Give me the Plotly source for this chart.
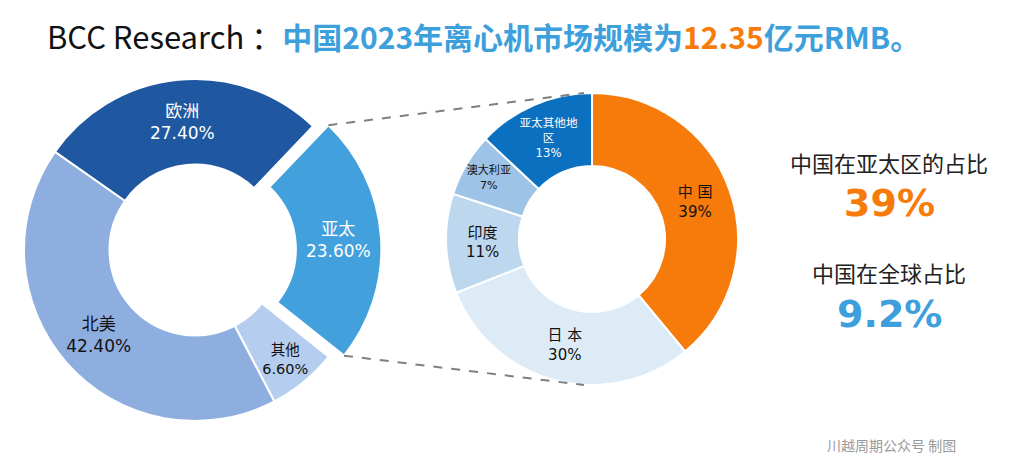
import math
import plotly.graph_objects as go

# page is photographed at 1012x469; the html body has an 8px margin
VW, VH, OFF = 1012, 469, 8
W, H = VW - 2 * OFF, VH - 2 * OFF

# ---- data ----
global_regions = ["欧洲", "亚太", "其他", "北美"]
global_share = [27.40, 23.60, 6.60, 42.40]
global_colors = ["#1f58a0", "#42a0dc", "#b5cdee", "#8eaee0"]
global_text_colors = ["#ffffff", "#ffffff", "#111111", "#111111"]

apac_regions = ["中 国", "日 本", "印度", "澳大利亚", "亚太其他地<br>区"]
apac_share = [39, 30, 11, 7, 13]
apac_colors = ["#f77b0a", "#ddebf7", "#bdd7ee", "#9dc3e6", "#0a70bf"]
apac_text_colors = ["#111111", "#111111", "#111111", "#111111", "#ffffff"]

china_in_apac = "39%"
china_in_world = "9.2%"

# ---- layout constants (screen pixels) ----
cxL, cyL, rL, pullL = 195, 250, 171, 0.09
cxR, cyR, rR = 592, 239, 146
rotL = -55

FONT = "DejaVu Sans, Noto Sans CJK SC, sans-serif"
CJK = "Noto Sans CJK SC, sans-serif"


def px(x):
    return (x - OFF) / W


def py(y):
    return 1 - (y - OFF) / H


def dom(cx, cy, half):
    return dict(x=[max(0, px(cx - half)), min(1, px(cx + half))],
                y=[max(0, py(cy + half)), min(1, py(cy - half))])


fig = go.Figure()

pulls = [pullL if r == "亚太" else 0 for r in global_regions]
fig.add_trace(go.Pie(
    labels=global_regions, values=global_share, sort=False,
    direction="clockwise", rotation=rotL, hole=0.5, pull=pulls,
    marker=dict(colors=global_colors, line=dict(color="white", width=2)),
    text=[f"{r}<br>{v:.2f}%" for r, v in zip(global_regions, global_share)],
    textinfo="text", textposition="inside", insidetextorientation="horizontal",
    textfont=dict(family=FONT, size=17, color=global_text_colors),
    domain=dom(cxL, cyL, rL * (1 + pullL)), showlegend=False, hoverinfo="label+percent",
))

fig.add_trace(go.Pie(
    labels=apac_regions, values=apac_share, sort=False,
    direction="clockwise", rotation=0, hole=0.5,
    marker=dict(colors=apac_colors, line=dict(color="white", width=2)),
    text=[f"{r}<br>{v}%" for r, v in zip(apac_regions, apac_share)],
    textinfo="text", textposition="inside", insidetextorientation="horizontal",
    textfont=dict(family=FONT, size=15, color=apac_text_colors),
    domain=dom(cxR, cyR, rR), showlegend=False, hoverinfo="label+percent",
))

# connectors from pulled 亚太 slice to the APAC donut
tot = sum(global_share)
start = rotL
for r, v in zip(global_regions, global_share):
    span = v / tot * 360
    if r == "亚太":
        a0, a1 = start, start + span
        break
    start += span
am = math.radians((a0 + a1) / 2)
ox, oy = pullL * rL * math.sin(am), -pullL * rL * math.cos(am)


def pt(cx, cy, rad, ang):
    a = math.radians(ang)
    return cx + rad * math.sin(a), cy - rad * math.cos(a)


p_up = pt(cxL, cyL, rL, a0)
p_dn = pt(cxL, cyL, rL, a1)
q_up = pt(cxR, cyR, rR, 0)
q_dn = pt(cxR, cyR, rR, 180)
for (sx, sy), (qx, qy) in [(p_up, q_up), (p_dn, q_dn)]:
    fig.add_shape(type="line", xref="paper", yref="paper",
                  x0=px(sx + ox), y0=py(sy + oy), x1=px(qx - 8), y1=py(qy),
                  line=dict(color="#7f7f7f", width=2, dash="dash"))

# title
title = ("<span style='font-size:31px'>BCC Research ：</span>"
         "<b><span style='color:#3da0dc'>中国2023年离心机市场规模为</span>"
         "<span style='color:#f77b0a'>12.35</span>"
         "<span style='color:#3da0dc'>亿元RMB。</span></b>")
fig.add_annotation(text=title, x=px(45), y=py(36), xref="paper", yref="paper",
                   xanchor="left", yanchor="middle", showarrow=False,
                   font=dict(family=CJK, size=30, color="#111111"))

# right side callouts
for txt, y, size, color, bold in [
    ("中国在亚太区的占比", 162, 22, "#222222", False),
    (china_in_apac, 203, 38, "#f77b0a", True),
    ("中国在全球占比", 272, 22, "#222222", False),
    (china_in_world, 314, 38, "#3da0dc", True),
]:
    fig.add_annotation(text=f"<b>{txt}</b>" if bold else txt,
                       x=px(889), y=py(y), xref="paper", yref="paper",
                       xanchor="center", yanchor="middle", showarrow=False,
                       font=dict(family="DejaVu Sans, " + CJK if bold else CJK, size=size, color=color))

fig.add_annotation(text="川越周期公众号 制图", x=px(958), y=py(445), xref="paper", yref="paper",
                   xanchor="right", yanchor="middle", showarrow=False,
                   font=dict(family=CJK, size=14, color="#9a9a9a"))

fig.update_layout(width=W, height=H, margin=dict(l=0, r=0, t=0, b=0),
                  paper_bgcolor="white", plot_bgcolor="white")

fig.write_html("out.html")
